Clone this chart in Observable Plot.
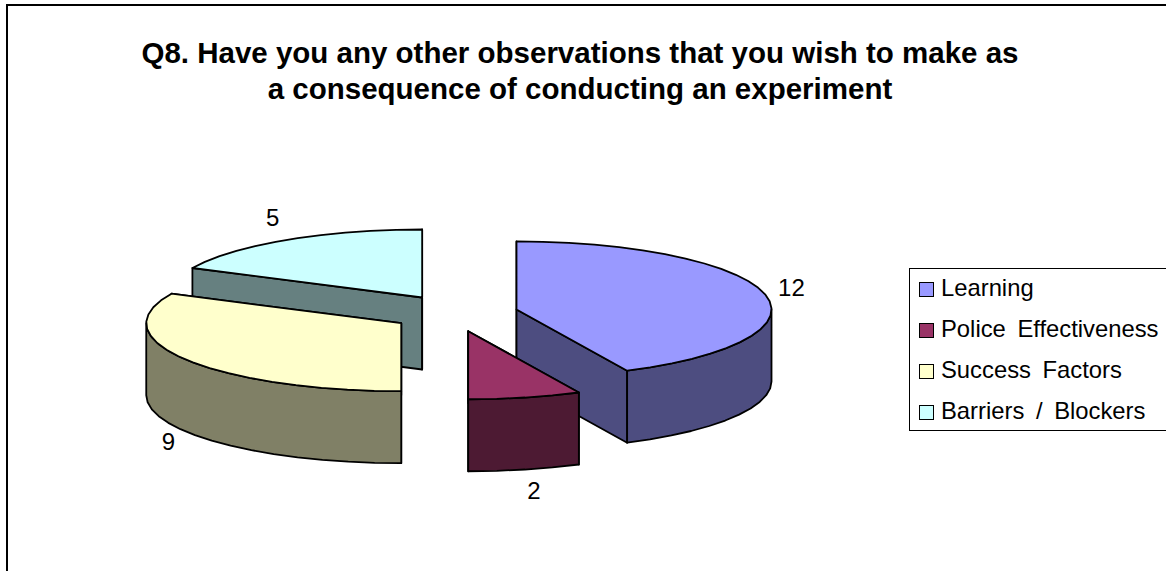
<!DOCTYPE html>
<html>
<head>
<meta charset="utf-8">
<script src="https://cdn.jsdelivr.net/npm/d3@7"></script>
<script src="https://cdn.jsdelivr.net/npm/@observablehq/plot@0.6"></script>
<style>
  html, body { margin: 0; padding: 0; background: #fff; overflow: hidden; }
  #stage { position: relative; width: 1166px; height: 571px; overflow: hidden; font-family: "Liberation Sans", Arial, sans-serif; color: #000; }
  #stage svg { position: absolute; left: 0; top: 0; }
  #frame { position: absolute; left: 6px; top: 4px; width: 1400px; height: 800px; border: 2px solid #000; box-sizing: border-box; pointer-events: none; }
  #title { position: absolute; left: 0; width: 1160px; top: 35px; text-align: center; font-weight: bold; font-size: 29.5px; line-height: 35.5px; white-space: nowrap; }
  #legend { position: absolute; left: 909px; top: 268px; width: 300px; height: 163px; border: 1.4px solid #000; box-sizing: border-box; background: #fff; font-size: 23.8px; word-spacing: 5px; }
  .row { position: absolute; left: 0; height: 24px; line-height: 24px; white-space: nowrap; }
  .row i { position: absolute; left: 9px; top: 6px; width: 15px; height: 15px; border: 1.6px solid #000; box-sizing: border-box; }
  .row span { position: absolute; left: 31px; }
</style>
</head>
<body>
<div id="stage"></div>
<script>
const titleLines = ["Q8. Have you any other observations that you wish to make as", "a consequence of conducting an experiment"];
const categories = ["Learning", "Police Effectiveness", "Success Factors", "Barriers / Blockers"];
const values = [12, 2, 9, 5];
const topColors = ["#9999FF", "#993366", "#FFFFCC", "#CCFFFF"];
const sideColors = ["#4D4D80", "#4D1A33", "#808066", "#668080"];
// Explosion of each slice, in pie radii
const explodeX = [0.251, 0.0616, -0.201, -0.119];
const explodeY = [0.074, -0.246, -0.128, 0.25];
const labelGap = [27, 22, 20, 26];
const labelNudge = [0, 4, 0, 0];
const paintOrder = [3, 0, 2, 1];

const cx = 452, cy = 314, rx = 255, ry = 68, depthPx = 72;
const depth = depthPx / ry;
const total = d3.sum(values);

let acc = 0;
const slices = values.map((v, i) => {
  const a0 = acc / total * 2 * Math.PI;
  acc += v;
  return {i, v, a0, a1: acc / total * 2 * Math.PI, ox: explodeX[i], oy: explodeY[i]};
});
const rimPoint = (s, a, drop = 0) => ({x: s.ox + Math.sin(a), y: s.oy + Math.cos(a) - drop});
const arcAngles = (a0, a1) => {
  const n = Math.max(1, Math.round((a1 - a0) / (Math.PI / 30)));
  return d3.range(n + 1).map(k => a0 + (a1 - a0) * k / n);
};

const faces = [];
const addFace = (id, color, pts) => {
  [...pts, pts[0]].forEach(p => faces.push({face: id, color, x: p.x, y: p.y}));
};
for (const idx of paintOrder) {
  const s = slices[idx];
  const apex = {x: s.ox, y: s.oy}, apexLow = {x: s.ox, y: s.oy - depth};
  // radial walls
  for (const [n, a] of [["w0", s.a0], ["w1", s.a1]]) {
    addFace(`${idx}${n}`, sideColors[idx], [apex, rimPoint(s, a), rimPoint(s, a, depth), apexLow]);
  }
  // outer wall: the front half of the rim only
  const f0 = Math.max(s.a0, Math.PI / 2), f1 = Math.min(s.a1, 3 * Math.PI / 2);
  if (f1 > f0) {
    const as = arcAngles(f0, f1);
    addFace(`${idx}r`, sideColors[idx], [
      ...as.map(a => rimPoint(s, a)),
      ...as.slice().reverse().map(a => rimPoint(s, a, depth))
    ]);
  }
  // top
  addFace(`${idx}t`, topColors[idx], [apex, ...arcAngles(s.a0, s.a1).map(a => rimPoint(s, a))]);
}

const labels = slices.map(s => {
  const m = (s.a0 + s.a1) / 2, front = Math.cos(m) < 0;
  const g = labelGap[s.i];
  return {
    text: String(s.v),
    x: s.ox + Math.sin(m) * (1 + g / rx) + labelNudge[s.i] / rx,
    y: s.oy + Math.cos(m) * (1 + g / ry) - (front ? depth : 0)
  };
});

const chart = Plot.plot({
  width: 1166,
  height: 571,
  margin: 0,
  x: {axis: null, domain: [-1, 1], range: [cx - rx, cx + rx]},
  y: {axis: null, domain: [-1, 1], range: [cy + ry, cy - ry]},
  color: {type: "identity"},
  marks: [
    Plot.line(faces, {x: "x", y: "y", z: "face", fill: "color", stroke: "#000", strokeWidth: 1.8, strokeLinejoin: "round"}),
    Plot.text(labels, {x: "x", y: "y", text: "text", fontSize: 24, fontFamily: "Liberation Sans, Arial, sans-serif", fill: "#000"})
  ]
});

const stage = document.getElementById("stage");
stage.appendChild(chart);

const frame = document.createElement("div");
frame.id = "frame";
stage.appendChild(frame);

const title = document.createElement("div");
title.id = "title";
title.innerHTML = titleLines.join("<br>");
stage.appendChild(title);

const legend = document.createElement("div");
legend.id = "legend";
categories.forEach((c, i) => {
  const row = document.createElement("div");
  row.className = "row";
  row.style.top = (7 + i * 41) + "px";
  const sw = document.createElement("i");
  sw.style.background = topColors[i];
  const t = document.createElement("span");
  t.textContent = c;
  row.append(sw, t);
  legend.appendChild(row);
});
stage.appendChild(legend);
</script>
</body>
</html>
